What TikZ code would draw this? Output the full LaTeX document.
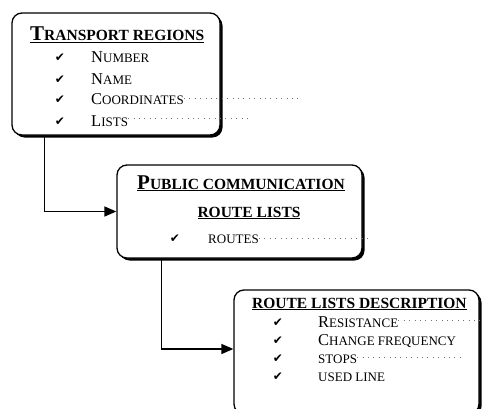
\documentclass[tikz,border=0pt]{standalone}
\usepackage{fontspec}
\setmainfont{Liberation Serif}
\newfontfamily\symfont{DejaVu Sans}
\usetikzlibrary{arrows.meta,shadows}
\newcommand\TL[1]{{\fontsize{21}{21}\selectfont #1}}
\newcommand\IL[1]{{\fontsize{16.5}{16.5}\selectfont #1}}
\tikzset{
  box/.style={draw=black, line width=1.3pt, rounded corners=10pt, fill=white,
    drop shadow={shadow xshift=2.5pt, shadow yshift=-2.5pt, fill=black, opacity=1},
    inner sep=0pt},
  ttl/.style={anchor=base west, inner sep=0pt, font=\bfseries\fontsize{15.5}{16}\selectfont},
  itm/.style={anchor=base west, inner sep=0pt, font=\fontsize{13}{13}\selectfont},
  chk/.style={anchor=base, inner sep=0pt, font=\symfont\fontsize{12}{12}\selectfont},
  conn/.style={line width=1.4pt, -{Triangle[length=12pt,width=10pt]}},
  dotline/.style={draw=black!55, line width=0.9pt, dash pattern=on 0.9pt off 4.5pt}
}
\begin{document}
\begin{tikzpicture}[x=1pt,y=-1pt]
\useasboundingbox (0,0) rectangle (484,409);
% boxes
\node[box, minimum width=208pt, minimum height=122pt] (b1) at (116,74) {};
\node[box, minimum width=245pt, minimum height=93pt] (b2) at (239.5,211.5) {};
\node[box, minimum width=245pt, minimum height=124pt] (b3) at (356.5,352) {};
% box 1 text
\node[ttl] (t1) at (30,41) {\underline{\TL{T}RANSPORT REGIONS}};
\node[chk] (c11) at (60,62) {✔};
\node[chk] (c12) at (60,84) {✔};
\node[chk] (c13) at (60,104) {✔};
\node[chk] (c14) at (60,125) {✔};
\node[itm] (i11) at (91,63) {\IL{N}UMBER};
\node[itm] (i12) at (91,85) {\IL{N}AME};
\node[itm] (i13) at (91,105) {\IL{C}OORDINATES};
\node[itm] (i14) at (91,126) {\IL{L}ISTS};
% box 2 text
\node[ttl] (t2) at (137,189) {\underline{\TL{P}UBLIC COMMUNICATION}};
\node[ttl, anchor=base] (t3) at (249,217) {\underline{ROUTE LISTS}};
\node[chk] (c21) at (175,242) {✔};
\node[itm] (i21) at (208,243) {ROUTES};
% box 3 text
\node[ttl] (t4) at (252,308) {\underline{ROUTE LISTS DESCRIPTION}};
\node[chk] (c31) at (278,326) {✔};
\node[chk] (c32) at (278,344) {✔};
\node[chk] (c33) at (278,362) {✔};
\node[chk] (c34) at (278,380) {✔};
\node[itm] (i31) at (318,327) {\IL{R}ESISTANCE};
\node[itm] (i32) at (318,345) {\IL{C}HANGE FREQUENCY};
\node[itm] (i33) at (318,363) {STOPS};
\node[itm] (i34) at (318,381) {USED LINE};
% dotted trails
\coordinate (d13) at (302,98);
\coordinate (d14) at (250,118);
\coordinate (d21) at (370,238);
\coordinate (d31) at (480,320);
\coordinate (d33) at (462,357);
\draw[dotline] (i13.east |- d13) -- (d13);
\draw[dotline] (i14.east |- d14) -- (d14);
\draw[dotline] (i21.east |- d21) -- (d21);
\draw[dotline] (i31.east |- d31) -- (d31);
\draw[dotline] (i33.east |- d33) -- (d33);
% connectors
\draw[conn] ([xshift=33pt]b1.south west) |- (b2.west);
\draw[conn] ([xshift=45pt]b2.south west) |- ([yshift=3pt]b3.west);
\end{tikzpicture}
\end{document}
